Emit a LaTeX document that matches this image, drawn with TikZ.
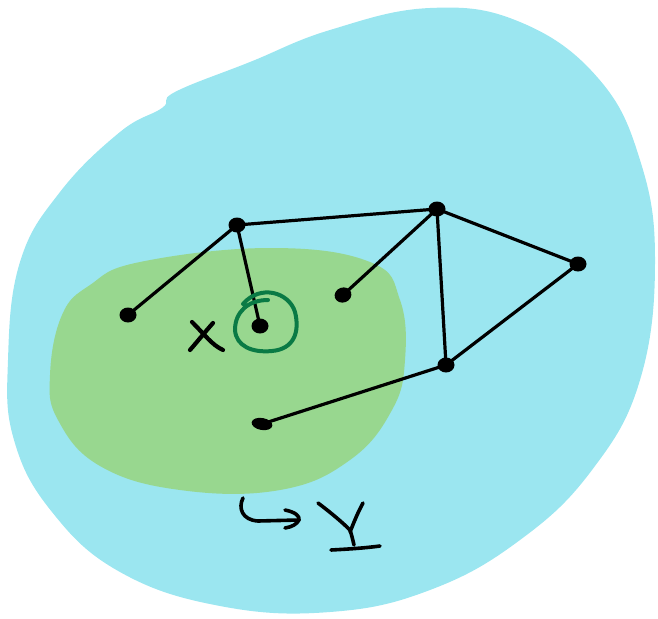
\documentclass[tikz,border=0pt]{standalone}
\usetikzlibrary{arrows.meta,shapes.geometric}
\definecolor{skyblob}{HTML}{9BE6F0}
\definecolor{grassblob}{HTML}{98D78F}
\definecolor{inkgreen}{HTML}{0A7A45}
\begin{document}
\begin{tikzpicture}[x=1pt,y=-1pt,
  pen/.style={line width=3.6pt,line cap=round,line join=round,black},
  vtx/.style={ellipse,fill=black,inner sep=0pt,minimum width=17pt,minimum height=15pt},
  edge/.style={line width=3.2pt,line cap=round,black}]
\useasboundingbox (0,0) rectangle (658,618);
% blue region
\fill[skyblob] plot[smooth cycle,tension=0.7] coordinates {
 (430,8) (520,22) (598,78) (640,160) (655,260) (640,380) (592,470) (520,540) (430,590) (330,612) (220,606) (120,572) (52,512) (14,440) (8,360) (20,262) (60,192) (120,132) (162,108) (175,92) (250,62) (330,30)};
% green region
\fill[grassblob] plot[smooth cycle,tension=0.7] coordinates {
 (140,262) (270,248) (370,262) (400,300) (405,360) (392,410) (350,460) (280,490) (180,490) (100,466) (58,420) (50,375) (62,315) (90,285)};
% vertices
\node[vtx] (A) at (237,225) {};
\node[vtx] (B) at (437,209) {};
\node[vtx] (C) at (578,264) {};
\node[vtx] (D) at (128,315) {};
\node[vtx] (E) at (260,326) {};
\node[vtx,rotate=20] (F) at (343,295) {};
\node[vtx] (G) at (446,365) {};
\node[vtx,minimum width=21pt,minimum height=12pt,rotate=-10] (H) at (262,424) {};
% edges
\draw[edge] (A.center) -- (B.center);
\draw[edge] (A.center) -- (D.center);
\draw[edge] (A.center) -- (E.center);
\draw[edge] (B.center) -- (F.center);
\draw[edge] (B.center) -- (G.center);
\draw[edge] (B.center) -- (C.center);
\draw[edge] (C.center) -- (G.center);
\draw[edge] (G.center) -- (H.center);
% green loop around E
\draw[inkgreen,line width=4pt,line cap=round] (268,300) .. controls (248,300) and (235,312) .. (235,330)
  .. controls (236,346) and (252,353) .. (272,351)
  .. controls (294,349) and (300,332) .. (295,312)
  .. controls (289,292) and (260,284) .. (243,304);
% X label
\draw[pen,line width=4.2pt] (192,322) .. controls (205,335) and (212,345) .. (223,350);
\draw[pen,line width=4.2pt] (213,323) .. controls (205,332) and (197,342) .. (190,350);
% hook arrow
\draw[pen] (243,498) .. controls (238,508) and (242,520) .. (258,521) -- (299,520);
\draw[pen] (285,510) .. controls (295,512) and (300,516) .. (299,520) .. controls (297,524) and (292,527) .. (285,528);
% Y label
\draw[pen] (318,503) .. controls (330,512) and (342,522) .. (350,530) .. controls (352,536) and (353,541) .. (354,545);
\draw[pen] (363,503) .. controls (358,512) and (354,522) .. (350,532);
\draw[pen] (331,550) .. controls (350,549) and (365,548) .. (380,546);
\end{tikzpicture}
\end{document}
